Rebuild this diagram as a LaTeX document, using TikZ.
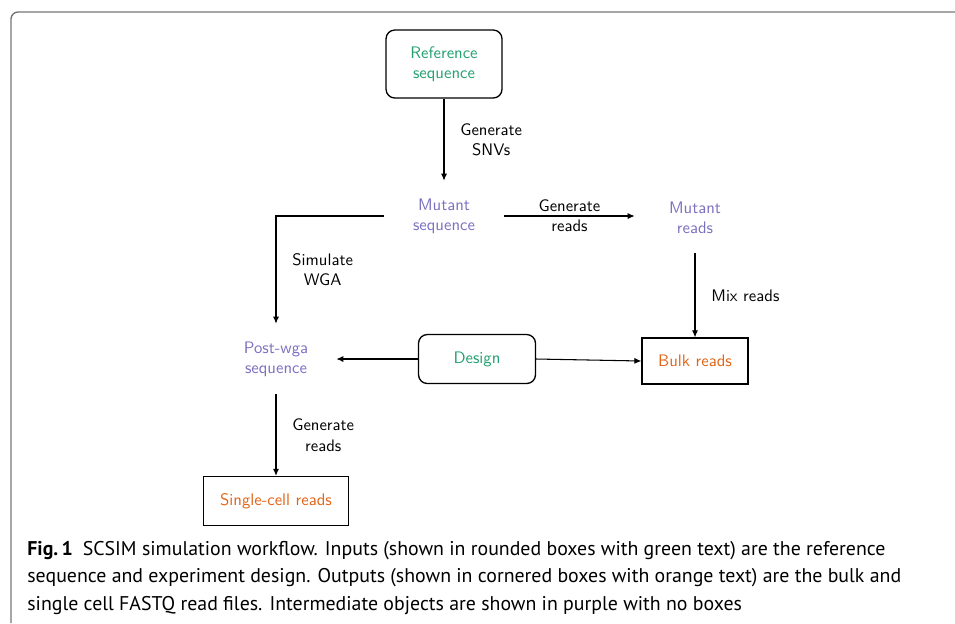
\documentclass[tikz,border=0pt]{standalone}
\usepackage{fontspec}
\newfontfamily\capfont{PT Sans}
\usepackage{tikz}
\usetikzlibrary{arrows.meta,positioning}
\definecolor{inGreen}{RGB}{34,160,112}
\definecolor{midPurple}{RGB}{122,112,192}
\definecolor{outOrange}{RGB}{226,100,22}
\definecolor{frameGray}{RGB}{118,118,118}

\tikzset{
  inbox/.style={draw, rounded corners=5pt, line width=0.75pt, text=inGreen, align=center},
  outbox/.style={draw, line width=0.75pt, text=outOrange, align=center},
  midtext/.style={text=midPurple, align=center, minimum width=2.4cm, minimum height=1.4cm},
  steplabel/.style={align=center, text=black},
  flow/.style={-{Latex[length=4pt,width=3.5pt]}, line width=0.6pt}
}

\begin{document}
\begin{tikzpicture}[x=0.02cm,y=-0.02cm,
  every node/.style={font=\sffamily\fontsize{9.5}{11.5}\selectfont}]
\useasboundingbox (0,0) rectangle (955,623);
% frame
\draw[frameGray, line width=0.8pt, rounded corners=4pt] (955,12) -- (11,12) -- (11,623);

% inputs, intermediates, outputs
\node[inbox, minimum width=2.32cm, minimum height=1.36cm] (refseq) at (444,64) {Reference\\sequence};
\node[midtext] (mutseq) at (444,216) {Mutant\\sequence};
\node[midtext] (mutreads) at (695,218) {Mutant\\reads};
\node[midtext] (postwga) at (276,359) {Post-wga\\sequence};
\node[inbox, minimum width=2.34cm, minimum height=0.98cm] (design) at (477,359) {Design};
\node[outbox, minimum width=2.12cm, minimum height=0.92cm] (bulk) at (695,361) {Bulk reads};
\node[outbox, minimum width=2.9cm, minimum height=0.98cm] (single) at (276,501) {Single-cell reads};

% steps
\draw[flow] (refseq) -- (mutseq) node[steplabel, midway, right=0.2cm] {Generate\\SNVs};
\draw[flow] (mutseq.west) -| (postwga.north) node[steplabel, pos=0.75, right=0.2cm] {Simulate\\WGA};
\draw[flow] (mutseq.east) -- (mutseq.east -| mutreads.west) node[steplabel, midway] {Generate\\reads};
\draw[flow] (mutreads) -- (bulk) node[steplabel, midway, right=0.2cm] {Mix reads};
\draw[flow] (design.west) -- (postwga.east);
\draw[flow] (design.east) -- (bulk.west);
\draw[flow] (postwga) -- (single) node[steplabel, midway, right=0.2cm] {Generate\\reads};

% caption
\node[anchor=north west, align=left, inner sep=0pt,
  font=\capfont\fontsize{11.3}{15.6}\selectfont] (caption) at (27,541)
  {\textbf{Fig.\,1}\enspace SCSIM simulation workflow. Inputs (shown in rounded boxes with green text) are the reference\\
   sequence and experiment design. Outputs (shown in cornered boxes with orange text) are the bulk and\\
   single cell FASTQ read files. Intermediate objects are shown in purple with no boxes};
\end{tikzpicture}
\end{document}
